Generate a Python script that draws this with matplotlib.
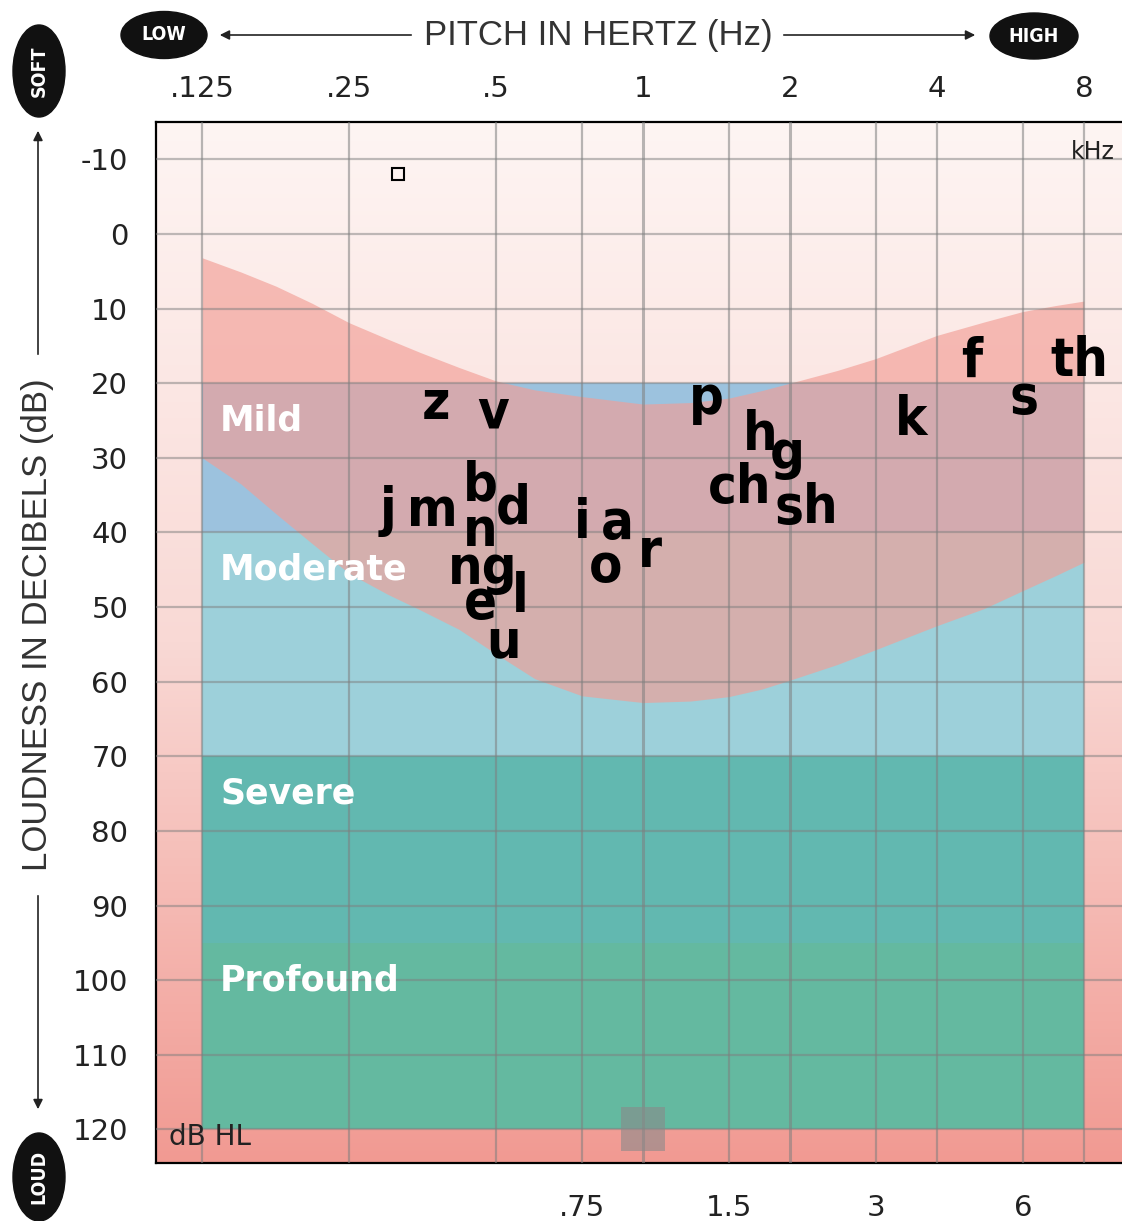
import numpy as np
import matplotlib.pyplot as plt
from matplotlib.patches import Ellipse
from matplotlib.colors import LinearSegmentedColormap

# audiogram grid
top_ticks = [0.125, 0.25, 0.5, 1, 2, 4, 8]
top_labels = ['.125', '.25', '.5', '1', '2', '4', '8']
bottom_ticks = [0.75, 1.5, 3, 6]
bottom_labels = ['.75', '1.5', '3', '6']
db_ticks = list(range(-10, 130, 10))

# hearing loss bands
band_names = ['Mild', 'Moderate', 'Severe', 'Profound']
band_top = [20, 40, 70, 95]
band_bottom = [40, 70, 95, 120]
band_colors = ['#9cc2de', '#9dd0da', '#62b8b0', '#64b9a0']
band_label_db = [25, 45, 75, 100]

# speech banana (kHz, dB HL)
banana_freq = [0.125, 0.15, 0.177, 0.21, 0.25, 0.3, 0.35, 0.42, 0.5, 0.6, 0.75,
               1.0, 1.25, 1.5, 1.75, 2.0, 2.5, 3.0, 4.0, 5.0, 6.0, 7.0, 8.0]
banana_top = [3.2, 5.1, 7.0, 9.3, 11.9, 14.1, 15.9, 17.9, 19.7, 20.9, 21.8,
              22.8, 22.6, 22.0, 21.0, 20.0, 18.3, 16.7, 13.6, 11.8, 10.4, 9.6, 9.0]
banana_bottom = [30.0, 33.5, 37.5, 41.5, 45.5, 48.3, 50.4, 53.0, 56.3, 59.6, 61.9,
                 62.8, 62.6, 62.0, 61.0, 59.8, 57.7, 55.7, 52.5, 50.2, 47.8, 45.8, 44.0]

# speech sounds: label, frequency (kHz), baseline level (dB)
sounds = ['z', 'v', 'j', 'm', 'b', 'd', 'n', 'ng', 'l', 'e', 'u', 'i', 'a', 'o', 'r',
          'p', 'h', 'g', 'ch', 'sh', 'k', 'f', 's', 'th']
sound_freq = [0.377, 0.493, 0.300, 0.370, 0.464, 0.542, 0.464, 0.470, 0.560, 0.464, 0.517,
              0.750, 0.885, 0.840, 1.034, 1.346, 1.736, 1.972, 1.580, 2.157, 3.54, 4.72,
              6.03, 7.82]
sound_db = [24.8, 26.0, 39.1, 39.1, 35.7, 38.8, 41.8, 46.9, 50.7, 51.5, 56.8,
            40.8, 40.8, 46.7, 44.7, 24.1, 29.0, 31.5, 36.0, 38.8, 27.0, 19.1, 24.0, 19.1]

fig = plt.figure(figsize=(11.22, 12.21), dpi=100)
ax = fig.add_axes([0.139, 0.0475, 0.868, 0.8526])

# background gradient
cmap = LinearSegmentedColormap.from_list('bg', ['#fef5f3', '#f9d9d5', '#f19a92'])
grad = np.linspace(0, 1, 256).reshape(-1, 1)
ax.imshow(grad, cmap=cmap, extent=[0, 1, 0, 1], transform=ax.transAxes,
          aspect='auto', origin='upper', zorder=0)

for top, bot, col in zip(band_top, band_bottom, band_colors):
    ax.fill_between([0.125, 8], top, bot, color=col, lw=0, zorder=1)

ax.fill_between(banana_freq, banana_top, banana_bottom, color='#f29e96',
                alpha=0.65, lw=0, zorder=2)

for f in top_ticks + bottom_ticks:
    lw = 2.2 if f in (1, 2) else 1.6
    ax.axvline(f, color='#7f7f7f', alpha=0.55, lw=lw, zorder=3)
for d in db_ticks:
    ax.axhline(d, color='#7f7f7f', alpha=0.5, lw=1.6, zorder=3)

for name, d in zip(band_names, band_label_db):
    ax.text(0.136, d, name, color='white', fontsize=25, fontweight='bold',
            va='center', ha='left', zorder=5)

for s, f, d in zip(sounds, sound_freq, sound_db):
    ax.text(f, d, s, fontsize=39, fontweight='bold', fontstretch='condensed',
            ha='center', va='baseline', color='black', zorder=6)

ax.plot([0.315], [-8], marker='s', ms=9, mfc='none', mec='black', mew=1.5, zorder=6)
ax.plot([1.0], [120], marker='s', ms=32, color='#8a8a8a', alpha=0.6, mew=0, zorder=6)

ax.text(9.26, -11, 'kHz', fontsize=17, ha='right', va='center', color='#222222', zorder=6)
ax.text(0.107, 121, 'dB HL', fontsize=20, ha='left', va='center', color='#222222', zorder=6)

ax.set_xscale('log', base=2)
ax.set_xlim(0.1005, 9.94)
ax.set_ylim(124.5, -15)

ax.set_xticks(top_ticks)
ax.set_xticklabels(top_labels)
ax.xaxis.set_minor_locator(plt.NullLocator())
ax.tick_params(axis='x', top=True, bottom=False, labeltop=True, labelbottom=False,
               length=0, pad=14, labelsize=21, labelcolor='#222222')
sec = ax.secondary_xaxis('bottom')
sec.set_xticks(bottom_ticks)
sec.set_xticklabels(bottom_labels)
sec.xaxis.set_minor_locator(plt.NullLocator())
sec.tick_params(length=0, pad=22, labelsize=21, labelcolor='#222222')
sec.spines['bottom'].set_visible(False)

ax.set_yticks(db_ticks)
ax.set_yticklabels([str(d) for d in db_ticks])
ax.tick_params(axis='y', length=0, pad=20, labelsize=21, labelcolor='#222222')

for side in ['left', 'top', 'bottom']:
    ax.spines[side].set_linewidth(1.6)
    ax.spines[side].set_color('black')
ax.spines['right'].set_visible(False)

# decorations in pixel space
ov = fig.add_axes([0, 0, 1, 1])
ov.set_xlim(0, 1122)
ov.set_ylim(1221, 0)
ov.axis('off')
ov.patch.set_alpha(0)

ov.text(598, 35, 'PITCH IN HERTZ (Hz)', fontsize=25, family='Liberation Sans',
        ha='center', va='center', color='#333333')
arrow = dict(arrowstyle='-|>', color='#222222', lw=1.2, mutation_scale=14)
ov.annotate('', xy=(217, 35), xytext=(414, 35), arrowprops=arrow)
ov.annotate('', xy=(978, 35), xytext=(781, 35), arrowprops=arrow)

ov.text(38, 625, 'LOUDNESS IN DECIBELS (dB)', fontsize=25, family='Liberation Sans',
        rotation=90, ha='center', va='center', color='#333333')
ov.annotate('', xy=(38, 128), xytext=(38, 357), arrowprops=arrow)
ov.annotate('', xy=(38, 1112), xytext=(38, 893), arrowprops=arrow)

for cx, cy, w, h, txt, rot in [(164, 35, 86, 47, 'LOW', 0), (1034, 36, 88, 46, 'HIGH', 0),
                               (39, 71, 52, 92, 'SOFT', 90), (39, 1177, 52, 88, 'LOUD', 90)]:
    ov.add_patch(Ellipse((cx, cy), w, h, color='#111111'))
    ov.text(cx, cy, txt, color='white', fontsize=14, fontweight='bold',
            fontstretch='condensed', rotation=rot, ha='center', va='center')

fig.savefig('out.png', dpi=100)
